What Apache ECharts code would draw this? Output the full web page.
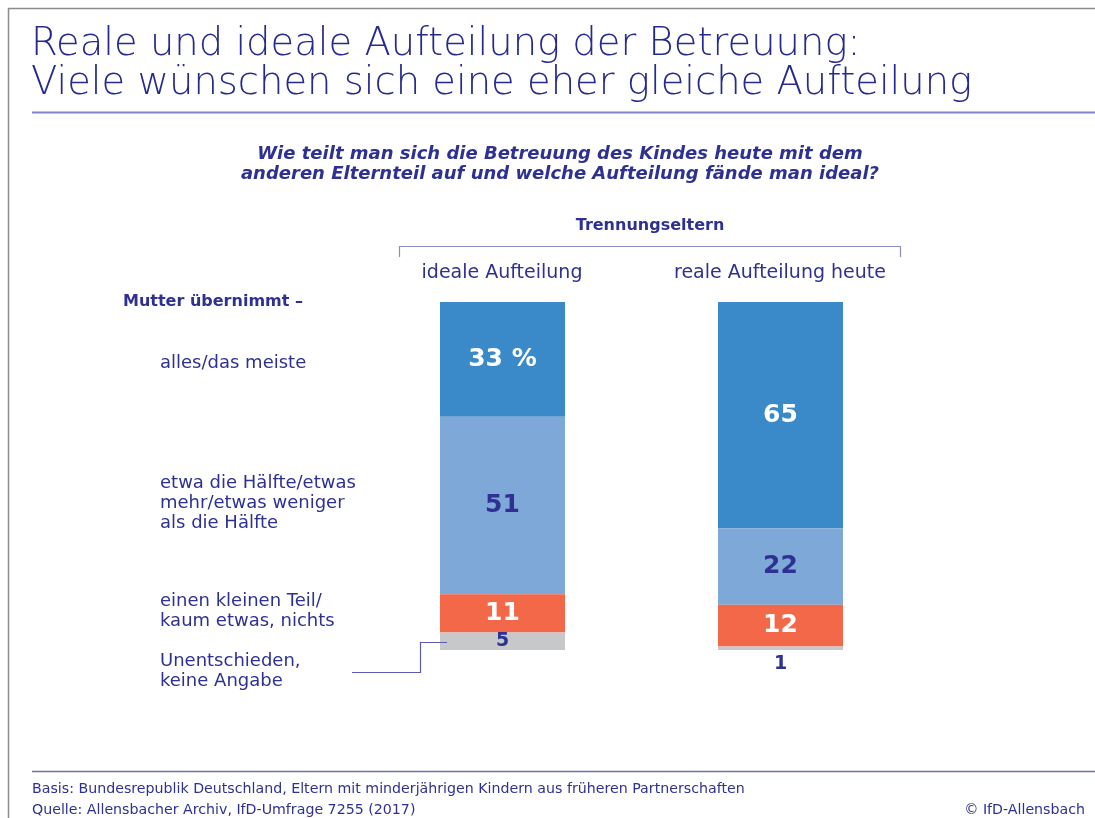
<!DOCTYPE html>
<html><head><meta charset="utf-8">
<script src="https://cdn.jsdelivr.net/npm/echarts@6/dist/echarts.min.js"></script>
<style>html,body{margin:0;padding:0;background:#fff}#c{width:1095px;height:818px}</style>
</head><body><div id="c"></div>
<script>
const categories = ['ideale Aufteilung', 'reale Aufteilung heute'];
const seriesNames = ['alles/das meiste', 'etwa die Hälfte/etwas mehr/etwas weniger als die Hälfte', 'einen kleinen Teil/kaum etwas, nichts', 'Unentschieden, keine Angabe'];
const allesMeiste = [33, 65];
const etwaHaelfte = [51, 22];
const kleinerTeil = [11, 12];
const unentschieden = [5, 1];
const rowLabels = ['alles/das meiste', 'etwa die Hälfte/etwas\nmehr/etwas weniger\nals die Hälfte', 'einen kleinen Teil/\nkaum etwas, nichts', 'Unentschieden,\nkeine Angabe'];

const FONT = 'DejaVu Sans';
const NAVY = '#2e3192';
const colors = ['#3a89c9', '#7ea8d8', '#f26849', '#c7c8ca'];
const labelColors = ['#ffffff', NAVY, '#ffffff', NAVY];
const values = [allesMeiste, etwaHaelfte, kleinerTeil, unentschieden];

const chart = echarts.init(document.getElementById('c'), null, {renderer: 'canvas'});

const series = values.map((vals, si) => ({
  name: seriesNames[si],
  type: 'bar',
  stack: 'total',
  barWidth: 125,
  itemStyle: {color: colors[si]},
  label: {
    show: true,
    position: 'inside',
    color: labelColors[si],
    fontFamily: FONT,
    fontWeight: 'bold',
    fontSize: si === 3 ? 19 : 25,
    formatter: p => (si === 0 && p.dataIndex === 0) ? p.value + ' %' : String(p.value)
  },
  data: vals.map((v, di) => (si === 3 && v < 3) ? {value: v, label: {position: 'bottom', distance: 5}} : v)
}));

function txt(text, x, y, size, opts) {
  opts = opts || {};
  return {type: 'text', x: x, y: y, style: Object.assign({
    text: text, fill: NAVY, fontFamily: FONT, fontSize: size, fontWeight: 'normal',
    textAlign: 'left', textVerticalAlign: 'middle', lineHeight: size * 1.18
  }, opts)};
}
function ln(x1, y1, x2, y2, stroke, w) {
  return {type: 'line', shape: {x1, y1, x2, y2}, style: {stroke: stroke, lineWidth: w || 1}};
}

const graphic = [
  ln(8, 8.5, 1095, 8.5, '#8c8c8c', 1.5),
  ln(8.5, 8, 8.5, 818, '#8c8c8c', 1.5),
  ln(32, 112.5, 1095, 112.5, '#8482c4', 2),
  ln(32, 771.5, 1095, 771.5, '#6e6cbc', 1.5),
  txt('Reale und ideale Aufteilung der Betreuung:', 31, 45, 38.5, {fontWeight: 'lighter', fill: '#262a8c'}),
  txt('Viele wünschen sich eine eher gleiche Aufteilung', 31, 84, 38.5, {fontWeight: 'lighter', fill: '#262a8c'}),
  txt('Wie teilt man sich die Betreuung des Kindes heute mit dem\nanderen Elternteil auf und welche Aufteilung fände man ideal?', 560, 164, 18, {fontWeight: 'bold', fontStyle: 'italic', textAlign: 'center', lineHeight: 20}),
  txt('Trennungseltern', 650, 226, 16, {fontWeight: 'bold', textAlign: 'center'}),
  {type: 'polyline', shape: {points: [[399.5, 257], [399.5, 246.5], [900.5, 246.5], [900.5, 257]]}, style: {stroke: '#8a8fb8', lineWidth: 1.2, fill: null}},
  txt(categories[0], 502, 273, 19, {textAlign: 'center'}),
  txt(categories[1], 780, 273, 19, {textAlign: 'center'}),
  txt('Mutter übernimmt –', 123, 302, 16, {fontWeight: 'bold'}),
  txt(rowLabels[0], 160, 363, 18, {lineHeight: 20}),
  txt(rowLabels[1], 160, 503, 18, {lineHeight: 20}),
  txt(rowLabels[2], 160, 611, 18, {lineHeight: 20}),
  txt(rowLabels[3], 160, 671, 18, {lineHeight: 20}),
  {type: 'polyline', shape: {points: [[352, 672.5], [420.5, 672.5], [420.5, 642.5], [447, 642.5]]}, style: {stroke: '#5a5bb0', lineWidth: 1.2, fill: null}, z: 100},
  txt('Basis: Bundesrepublik Deutschland, Eltern mit minderjährigen Kindern aus früheren Partnerschaften', 32, 789, 14.2),
  txt('Quelle: Allensbacher Archiv, IfD-Umfrage 7255 (2017)', 32, 810, 14.2),
  txt('© IfD-Allensbach', 1085, 810, 14.2, {textAlign: 'right'})
];

chart.setOption({
  animation: false,
  backgroundColor: '#ffffff',
  grid: {left: 363.5, width: 556, top: 302, height: 348, containLabel: false},
  xAxis: {type: 'category', data: categories, show: false},
  yAxis: {type: 'value', min: 0, max: 100, show: false, inverse: true},
  series: series,
  graphic: graphic
});
</script></body></html>
